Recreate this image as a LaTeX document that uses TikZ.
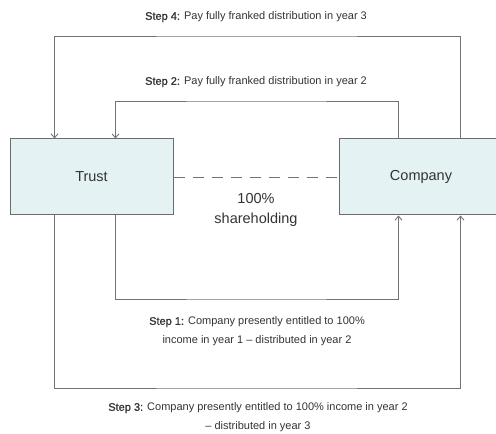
\documentclass[tikz,border=0pt]{standalone}
\usepackage{fontspec}
\setmainfont{Liberation Sans}
\newfontfamily\stepfont[FakeBold=1.2]{Liberation Sans}
\usetikzlibrary{arrows.meta}
\definecolor{boxfill}{HTML}{E4F2F4}
\definecolor{boxline}{HTML}{6B6B6B}
\definecolor{conn}{HTML}{737373}
\definecolor{txt}{HTML}{333333}
\tikzset{
  entity/.style={draw=boxline, line width=1pt, fill=boxfill, minimum width=163pt, minimum height=76pt, inner sep=0pt, font=\fontsize{14.5}{17}\selectfont, text=txt},
  flow/.style={draw=conn, line width=0.9pt, -{Straight Barb[length=4pt,width=7pt,line width=0.9pt]}},
  link/.style={draw=conn, line width=0.9pt, dash pattern=on 11pt off 8pt},
  lbl/.style={font=\fontsize{11}{19}\selectfont, text=txt, align=center, inner sep=0pt},
  share/.style={font=\fontsize{14.5}{20}\selectfont, text=txt, align=center, inner sep=0pt}
}
\newcommand{\stp}[1]{{\stepfont #1}}
\begin{document}
\begin{tikzpicture}[x=1pt,y=1pt]
\useasboundingbox (0,0) rectangle (496,434);
\node[entity] (trust) at (91.5,257) {Trust};
\node[entity, minimum width=164pt] (comp) at (421,257) {Company};
\draw[link] (trust.east) -- (comp.west);
\node[share] (share) at (256,224) {100\%\\shareholding};
\coordinate (s4top) at (256,398);
\coordinate (s2top) at (256,333);
\coordinate (s1bot) at (256,135);
\coordinate (s3bot) at (256,46);
\draw[flow] ([xshift=122pt]comp.north west) |- (s4top) -| ([xshift=45pt]trust.north west);
\draw[flow] ([xshift=60pt]comp.north west) |- (s2top) -| ([xshift=106pt]trust.north west);
\draw[flow] ([xshift=106pt]trust.south west) |- (s1bot) -| ([xshift=60pt]comp.south west);
\draw[flow] ([xshift=45pt]trust.south west) |- (s3bot) -| ([xshift=122pt]comp.south west);
\node[lbl] (l4) at (256,417) {\stp{Step 4:} Pay fully franked distribution in year 3};
\node[lbl] (l2) at (256,352) {\stp{Step 2:} Pay fully franked distribution in year 2};
\node[lbl] (l1) at (257,102.5) {\stp{Step 1:} Company presently entitled to 100\%\\income in year 1 -- distributed in year 2};
\node[lbl] (l3) at (258,16.5) {\stp{Step 3:} Company presently entitled to 100\% income in year 2\\-- distributed in year 3};
\end{tikzpicture}
\end{document}
